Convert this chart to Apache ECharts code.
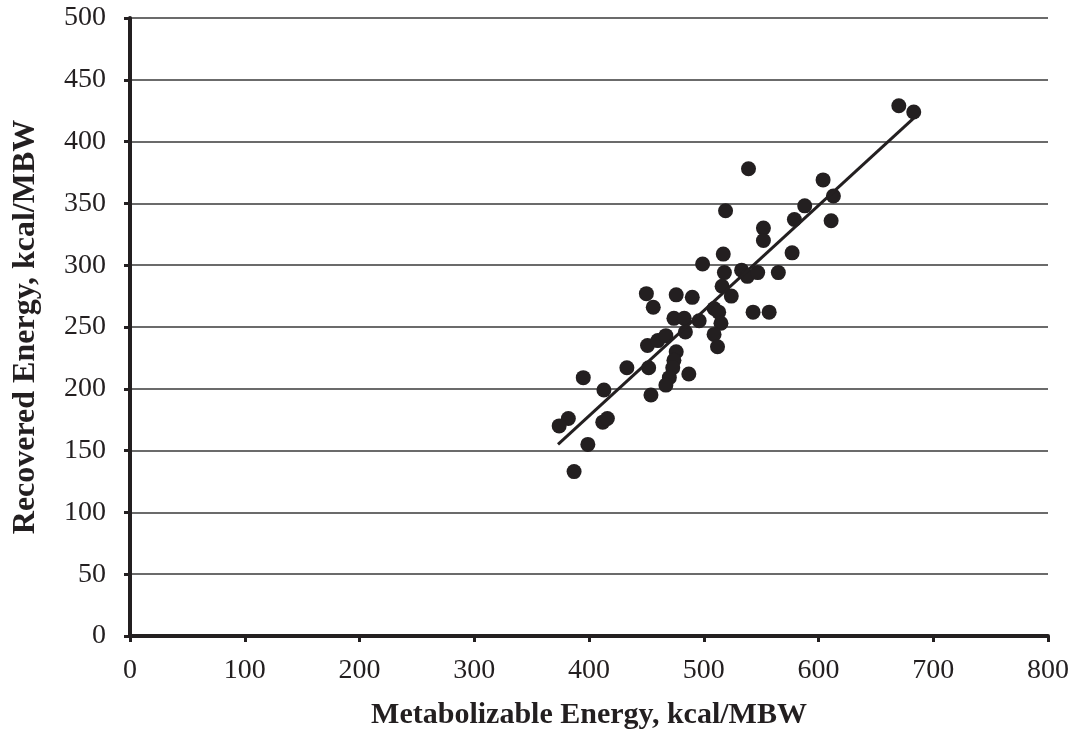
<!DOCTYPE html>
<html>
<head>
<meta charset="utf-8">
<script src="https://cdn.jsdelivr.net/npm/echarts@6/dist/echarts.min.js"></script>
<style>
  html, body { margin: 0; padding: 0; background: #fff; }
  #chart { width: 1074px; height: 730px; }
</style>
</head>
<body>
<div id="chart"></div>
<script>
// values
var metabolizable = [670, 683, 539, 604, 613, 588, 519, 579, 611, 552, 552, 577, 517, 499, 518, 533, 538, 547, 565,
    450, 476, 490, 516, 524, 456, 509, 513, 543, 557, 474, 483, 496, 515, 484, 509, 512, 451, 460, 467, 476,
    474, 473, 470, 467, 487, 452, 454, 433, 395, 413, 382, 374, 412, 416, 399, 387];
var recovered = [429, 424, 378, 369, 356, 348, 344, 337, 336, 330, 320, 310, 309, 301, 294, 296, 291, 294, 294,
    277, 276, 274, 283, 275, 266, 265, 262, 262, 262, 257, 257, 255, 253, 246, 244, 234, 235, 239, 243, 230,
    223, 217, 209, 203, 212, 217, 195, 217, 209, 199, 176, 170, 173, 176, 155, 133];
var trendX = [373, 683];
var trendY = [155, 419];

var points = metabolizable.map(function (x, i) { return [x, recovered[i]]; });
var trend = trendX.map(function (x, i) { return [x, trendY[i]]; });

var ink = '#231f20';
var serif = 'Liberation Serif';
var myChart = echarts.init(document.getElementById('chart'));

var option = {
    animation: false,
    textStyle: { fontFamily: serif },
    grid: { left: 130, right: 26, top: 18, bottom: 94, outerBoundsMode: 'none', containLabel: false },
    xAxis: {
        type: 'value',
        min: 0,
        max: 800,
        interval: 100,
        name: 'Metabolizable Energy, kcal/MBW',
        nameLocation: 'middle',
        nameGap: 64,
        nameTextStyle: { fontSize: 30, fontWeight: 'bold', color: ink, fontFamily: serif },
        axisLine: { lineStyle: { color: ink, width: 4 } },
        axisTick: { length: 6, lineStyle: { color: ink, width: 3 } },
        axisLabel: { fontSize: 28, color: ink, margin: 21, fontFamily: serif },
        splitLine: { show: false }
    },
    yAxis: {
        type: 'value',
        min: 0,
        max: 500,
        interval: 50,
        name: 'Recovered Energy, kcal/MBW',
        nameLocation: 'middle',
        nameGap: 88,
        nameTextStyle: { fontSize: 32, fontWeight: 'bold', color: ink, fontFamily: serif },
        axisLine: { show: true, lineStyle: { color: ink, width: 4 } },
        axisTick: { show: true, length: 6, lineStyle: { color: ink, width: 3 } },
        axisLabel: { fontSize: 28, color: ink, margin: 24, fontFamily: serif },
        splitLine: { lineStyle: { color: '#3a3a3a', width: 1.5 } }
    },
    series: [{
        type: 'scatter',
        data: points,
        symbolSize: 15,
        itemStyle: { color: ink, opacity: 1 }
    }, {
        type: 'line',
        data: trend,
        symbol: 'none',
        lineStyle: { color: ink, width: 3 }
    }]
};
option && myChart.setOption(option);
</script>
</body>
</html>
